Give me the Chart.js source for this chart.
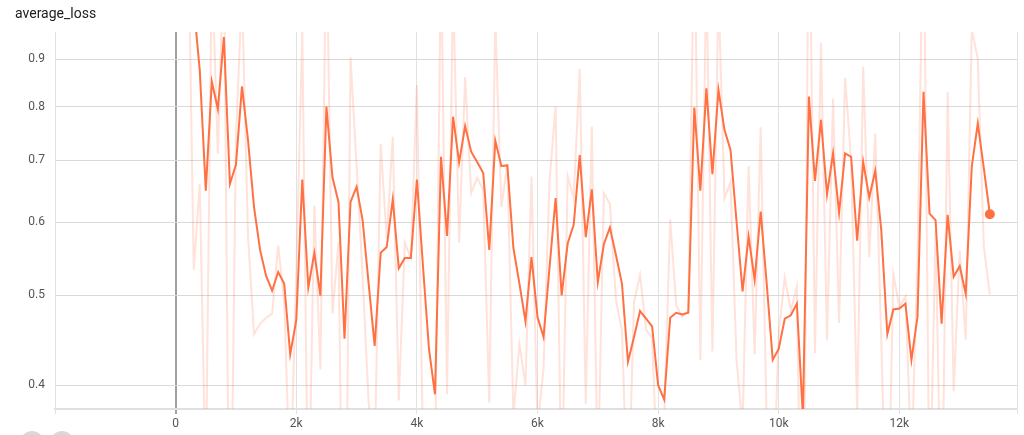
<!DOCTYPE html>
<html>
<head>
<meta charset="utf-8">
<script src="https://cdn.jsdelivr.net/npm/chart.js@4"></script>
<style>
  html, body { margin: 0; padding: 0; background: #fff; }
  #wrap { position: relative; width: 1024px; height: 435px; overflow: hidden; }
  #title { position: absolute; left: 15px; top: 5px; font: 14px Roboto, sans-serif; color: #212121; }
  .btn { position: absolute; top: 431px; width: 24px; height: 24px; border-radius: 50%; background: #d9d9d9; }
</style>
</head>
<body>
<div id="wrap">
  <canvas id="lossChart" width="1024" height="435"></canvas>
  <div id="title">average_loss</div>
  <div class="btn" style="left:20px"></div>
  <div class="btn" style="left:50px"></div>
</div>
<script>
// training steps (every 100)
const steps = [
  200, 300, 400, 500, 600, 700, 800, 900, 1000, 1100,
  1200, 1300, 1400, 1500, 1600, 1700, 1800, 1900, 2000, 2100,
  2200, 2300, 2400, 2500, 2600, 2700, 2800, 2900, 3000, 3100,
  3200, 3300, 3400, 3500, 3600, 3700, 3800, 3900, 4000, 4100,
  4200, 4300, 4400, 4500, 4600, 4700, 4800, 4900, 5000, 5100,
  5200, 5300, 5400, 5500, 5600, 5700, 5800, 5900, 6000, 6100,
  6200, 6300, 6400, 6500, 6600, 6700, 6800, 6900, 7000, 7100,
  7200, 7300, 7400, 7500, 7600, 7700, 7800, 7900, 8000, 8100,
  8200, 8300, 8400, 8500, 8600, 8700, 8800, 8900, 9000, 9100,
  9200, 9300, 9400, 9500, 9600, 9700, 9800, 9900, 10000, 10100,
  10200, 10300, 10400, 10500, 10600, 10700, 10800, 10900, 11000, 11100,
  11200, 11300, 11400, 11500, 11600, 11700, 11800, 11900, 12000, 12100,
  12200, 12300, 12400, 12500, 12600, 12700, 12800, 12900, 13000, 13100,
  13200, 13300, 13400, 13500
];

// smoothed curve (dark line)
const smoothedLoss = [
  1.36, 1.030, 0.876, 0.649, 0.851, 0.795, 0.951, 0.660, 0.692, 0.841,
  0.736, 0.623, 0.560, 0.525, 0.506, 0.530, 0.515, 0.432, 0.470, 0.667,
  0.510, 0.556, 0.500, 0.800, 0.671, 0.631, 0.449, 0.631, 0.655, 0.603,
  0.515, 0.441, 0.556, 0.564, 0.635, 0.535, 0.549, 0.549, 0.667, 0.539,
  0.438, 0.391, 0.706, 0.580, 0.780, 0.696, 0.762, 0.715, 0.697, 0.678,
  0.560, 0.735, 0.690, 0.691, 0.563, 0.515, 0.469, 0.550, 0.474, 0.451,
  0.537, 0.637, 0.500, 0.569, 0.596, 0.709, 0.578, 0.651, 0.517, 0.568,
  0.592, 0.553, 0.515, 0.424, 0.451, 0.481, 0.472, 0.463, 0.400, 0.386,
  0.473, 0.479, 0.477, 0.479, 0.798, 0.649, 0.837, 0.676, 0.834, 0.755,
  0.718, 0.601, 0.505, 0.579, 0.520, 0.616, 0.515, 0.426, 0.438, 0.472,
  0.476, 0.490, 0.370, 0.820, 0.665, 0.774, 0.643, 0.712, 0.614, 0.712,
  0.706, 0.573, 0.697, 0.638, 0.682, 0.588, 0.454, 0.483, 0.484, 0.490,
  0.426, 0.474, 0.830, 0.613, 0.603, 0.466, 0.611, 0.524, 0.538, 0.502,
  0.689, 0.767, 0.686, 0.612
];

// raw values (faint line)
const rawLoss = [
  1.36, 0.533, 0.66, 0.31, 1.154, 0.711, 1.185, 0.22, 0.74, 1.065,
  0.579, 0.454, 0.466, 0.473, 0.478, 0.566, 0.493, 0.308, 0.527, 0.963,
  0.275, 0.625, 0.416, 1.25, 0.478, 0.571, 0.176, 0.904, 0.691, 0.525,
  0.383, 0.33, 0.729, 0.576, 0.742, 0.385, 0.57, 0.549, 0.844, 0.347,
  0.287, 0.321, 1.179, 0.391, 1.08, 0.57, 0.861, 0.645, 0.67, 0.65,
  0.383, 0.998, 0.623, 0.693, 0.371, 0.443, 0.40, 0.672, 0.36, 0.417,
  0.666, 0.80, 0.295, 0.673, 0.637, 0.879, 0.382, 0.761, 0.316, 0.645,
  0.628, 0.495, 0.458, 0.288, 0.492, 0.526, 0.459, 0.45, 0.306, 0.365,
  0.604, 0.488, 0.474, 0.482, 1.277, 0.426, 1.119, 0.435, 1.071, 0.637,
  0.663, 0.426, 0.361, 0.69, 0.432, 0.76, 0.364, 0.293, 0.456, 0.523,
  0.482, 0.511, 0.19, 1.495, 0.433, 0.938, 0.447, 0.816, 0.467, 0.859,
  0.697, 0.374, 0.883, 0.55, 0.748, 0.447, 0.253, 0.527, 0.486, 0.499,
  0.33, 0.546, 1.364, 0.288, 0.588, 0.261, 0.829, 0.394, 0.559, 0.448,
  0.97, 0.90, 0.565, 0.501
];

const xTicks = [-2000, 0, 2000, 4000, 6000, 8000, 10000, 12000, 13950];
const yTicks = [0.4, 0.5, 0.6, 0.7, 0.8, 0.9];

const toPoints = (vals) => steps.map((s, i) => ({ x: s, y: vals[i] }));
const lastIdx = steps.length - 1;

new Chart(document.getElementById("lossChart"), {
  type: "line",
  data: {
    datasets: [
      {
        data: toPoints(smoothedLoss),
        borderColor: "#ff7043",
        backgroundColor: "#ff7043",
        borderWidth: 2,
        pointRadius: (c) => c.dataIndex === lastIdx ? 4 : 0,
        tension: 0,
        clip: 0
      },
      {
        data: toPoints(rawLoss),
        borderColor: "rgba(255, 112, 67, 0.2)",
        borderWidth: 2,
        pointRadius: 0,
        tension: 0,
        clip: 0
      }
    ]
  },
  options: {
    responsive: false,
    animation: false,
    events: [],
    layout: { padding: { top: 32, right: 7, left: 0, bottom: 0 } },
    plugins: { legend: { display: false }, tooltip: { enabled: false } },
    scales: {
      x: {
        type: "linear",
        min: -2000,
        max: 13950,
        afterBuildTicks: (scale) => { scale.ticks = xTicks.map(v => ({ value: v })); },
        afterFit: (scale) => { scale.height = 26; },
        ticks: {
          autoSkip: false,
          maxRotation: 0,
          padding: 3,
          color: "#555",
          font: { family: "Roboto", size: 12 },
          callback: (v) => (v < 0 || v > 12000) ? "" : (v === 0 ? "0" : (v / 1000) + "k")
        },
        grid: {
          color: (c) => c.tick && c.tick.value === 0 ? "#a0a0a0" : "#e2e2e2",
          lineWidth: (c) => c.tick && c.tick.value === 0 ? 2 : 1,
          tickLength: 5
        },
        border: { color: "#e0e0e0", width: 2 }
      },
      y: {
        type: "logarithmic",
        min: 0.377,
        max: 0.963,
        afterBuildTicks: (scale) => { scale.ticks = yTicks.map(v => ({ value: v })); },
        afterFit: (scale) => { scale.width = 55; },
        ticks: {
          padding: 10,
          color: "#555",
          font: { family: "Roboto", size: 12 },
          callback: (v) => v.toFixed(1)
        },
        grid: { color: "#d9d9d9", drawTicks: false },
        border: { display: false }
      }
    }
  }
});
</script>
</body>
</html>
